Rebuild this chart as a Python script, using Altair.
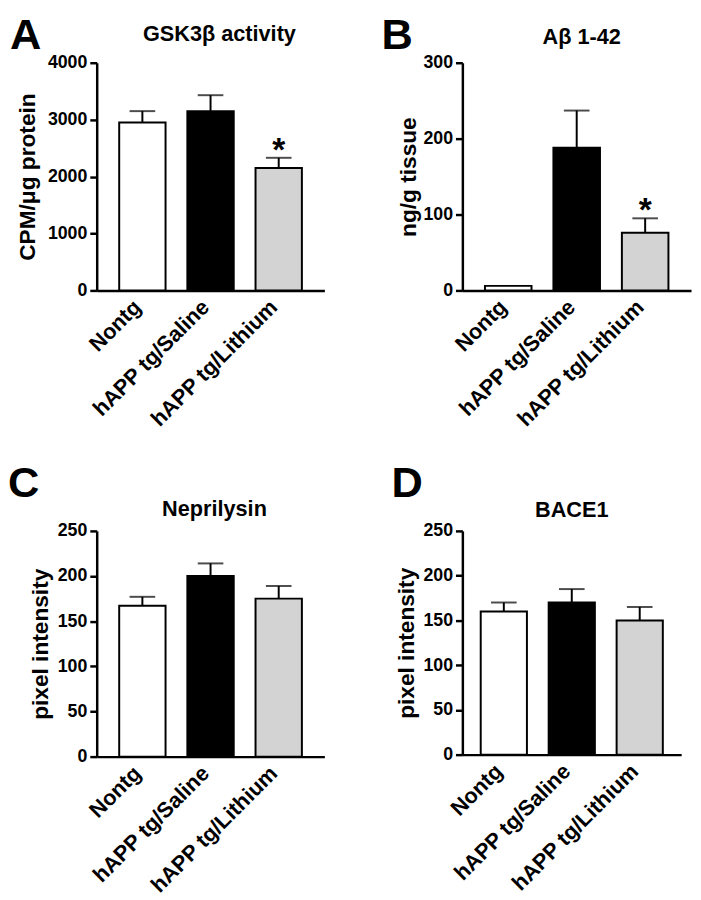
import altair as alt
import pandas as pd

FONT = "Liberation Sans"

groups = ["Nontg", "hAPP tg/Saline", "hAPP tg/Lithium"]
fills = ["#ffffff", "#000000", "#d3d3d3"]

gsk_mean = [2950, 3150, 2150]
gsk_sem = [200, 280, 180]
abeta_mean = [6, 188, 76]
abeta_sem = [0, 49, 19]
nep_mean = [167, 200, 175]
nep_sem = [10, 14, 14]
bace_mean = [160, 170, 150]
bace_sem = [10, 15, 15]

stars_ab = ["", "", "*"]
stars_none = ["", "", ""]


def panel(letter, title, ytitle, means, sems, stars, ymax, step, w, h,
          po, title_y, title_dx, letter_x, letter_y, title_pad):
    df = pd.DataFrame({
        "group": groups,
        "mean": means,
        "upper": [m + s for m, s in zip(means, sems)],
        "star": stars,
    })
    x = alt.X("group:N", sort=groups, title=None,
              scale=alt.Scale(paddingInner=0.32, paddingOuter=po),
              axis=alt.Axis(labelAngle=-45, labelAlign="right", labelBaseline="middle",
                            ticks=False, domainWidth=2.5, domainColor="black",
                            labelFontSize=22, labelFontWeight="bold", labelColor="black",
                            labelPadding=13, labelOffset=-5, labelFont=FONT,
                            labelOverlap=False, labelLimit=0))
    yaxis = alt.Axis(values=list(range(0, ymax + 1, step)), tickSize=7, tickWidth=2.5,
                     tickColor="black", domainWidth=2.5, domainColor="black",
                     labelFontSize=18, labelFontWeight="bold", labelColor="black",
                     labelFont=FONT, labelPadding=3, titleFont=FONT, titleFontSize=23,
                     titleFontWeight="bold", titleColor="black", titlePadding=title_pad,
                     grid=False, format="d")
    yscale = alt.Scale(domain=[0, ymax], nice=False)

    base = alt.Chart(df).encode(x=x)
    bars = base.mark_bar(stroke="black", strokeWidth=2).encode(
        y=alt.Y("mean:Q", title=ytitle, scale=yscale, axis=yaxis),
        fill=alt.Fill("group:N", scale=alt.Scale(domain=groups, range=fills), legend=None),
    )
    err = base.transform_filter("datum.upper > datum.mean").mark_rule(
        color="black", strokeWidth=2).encode(
        y=alt.Y("mean:Q", title=ytitle, scale=yscale, axis=yaxis), y2="upper:Q")
    cap = base.transform_filter("datum.upper > datum.mean").mark_tick(
        color="black", thickness=2, size=26, orient="horizontal").encode(
        y=alt.Y("upper:Q", title=ytitle, scale=yscale, axis=yaxis))
    star = base.transform_filter("datum.star != ''").mark_text(
        fontSize=34, fontWeight="bold", font=FONT, color="black",
        baseline="alphabetic", dy=3).encode(
        y=alt.Y("upper:Q", title=ytitle, scale=yscale, axis=yaxis), text="star:N")

    lab = alt.Chart(pd.DataFrame({"t": [letter]})).mark_text(
        fontSize=44, fontWeight="bold", font=FONT, color="black", align="left",
        baseline="alphabetic").encode(text="t:N", x=alt.value(letter_x), y=alt.value(letter_y))
    ttl = alt.Chart(pd.DataFrame({"t": [title]})).mark_text(
        fontSize=22, fontWeight="bold", font=FONT, color="black", align="center",
        baseline="alphabetic").encode(text="t:N", x=alt.value(w / 2 + title_dx),
                                      y=alt.value(title_y))

    return alt.layer(bars, err, cap, star, lab, ttl).properties(width=w, height=h)


pA = panel("A", "GSK3β activity", "CPM/μg protein", gsk_mean, gsk_sem, stars_ab,
           4000, 1000, 231, 231, 0.33, -22, 9, -88, -14, 8)
pB = panel("B", "Aβ 1-42", "ng/g tissue", abeta_mean, abeta_sem, stars_ab,
           300, 100, 232, 231, 0.33, -19, 5, -82, -14, 3)
pC = panel("C", "Neprilysin", "pixel intensity", nep_mean, nep_sem, stars_none,
           250, 50, 231, 229, 0.33, -15, 4, -90, -34, 5)
pD = panel("D", "BACE1", "pixel intensity", bace_mean, bace_sem, stars_none,
           250, 50, 222, 227, 0.27, -14, 0, -72, -34, 5)

row1 = alt.hconcat(pA, pB, spacing=140, bounds="flush")
row2 = alt.hconcat(pC, pD, spacing=140, bounds="flush")
chart = alt.vconcat(row1, row2, spacing=475, bounds="flush").properties(
    padding={"left": 0, "top": 0, "right": 2, "bottom": 2},
    background="white",
).configure_view(stroke=None)

chart.save("out.html", embed_options={"renderer": "svg", "actions": False})
